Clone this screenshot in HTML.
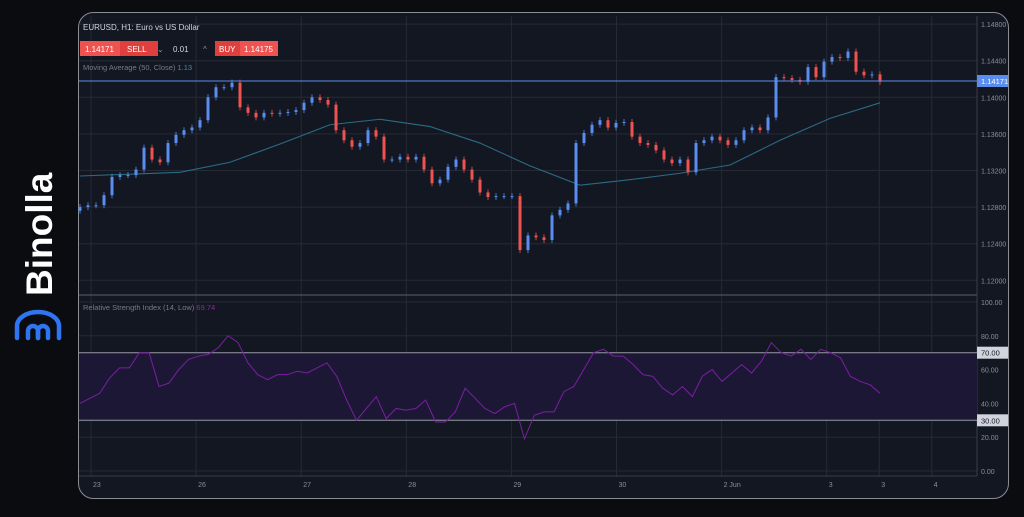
<!DOCTYPE html>
<html><head><meta charset="utf-8"><style>
html,body{margin:0;padding:0;background:#0b0c10;}
body{width:1024px;height:512px;overflow:hidden;position:relative;font-family:"Liberation Sans",sans-serif;}
svg text{font-family:"Liberation Sans",sans-serif;}
</style></head><body>
<svg id="chart" width="1024" height="512" viewBox="0 0 1024 512" xmlns="http://www.w3.org/2000/svg">
  <rect x="0" y="0" width="1024" height="512" fill="#0b0c10"/>
  <g>
    <text x="0" y="0" transform="translate(52,296) rotate(-90)" font-size="37" font-weight="bold" fill="#ffffff">Binolla</text>
    <g fill="none" stroke="#2f74f0" stroke-width="4.5" stroke-linecap="round">
      <path d="M17 338 L17 326 A21 14 0 0 1 59 326 L59 338"/>
      <path d="M28 338 L28 331 A5 5 0 0 1 38 331 L38 338"/>
      <path d="M38 338 L38 331 A5 5 0 0 1 48 331 L48 338"/>
    </g>
  </g>
  <rect x="78.5" y="12.5" width="930" height="486" rx="15" fill="#131722" stroke="#8a8d94" stroke-width="1"/>
  <g id="grid"></g>
  <rect x="79" y="352" width="898" height="68" fill="#1c1735"/>
  <g id="rsiAxis"></g>
  <g id="priceAxis"></g>
  <g id="timeAxis"></g>
  <g id="ma"></g>
  <g id="candles"></g>
  <g id="rsi"></g>
  <line x1="79" y1="81" x2="977" y2="81" stroke="#5b8def" stroke-width="1"/>
  <rect x="977" y="75" width="31" height="12" fill="#5b8def"/>
  <text x="981" y="84" font-size="7.5" fill="#ffffff">1.14171</text>
  <text x="83" y="30" font-size="8" fill="#d1d4dc">EURUSD, H1: Euro vs US Dollar</text>
  <g>
    <rect x="80" y="41" width="40" height="15" fill="#f0524f"/>
    <rect x="120" y="41" width="38" height="15" fill="#e0403d"/>
    <text x="85" y="52" font-size="8" fill="#fff">1.14171</text>
    <text x="127" y="52" font-size="8" fill="#fff">SELL</text>
    <text x="157" y="52" font-size="8" fill="#9598a1">⌄</text>
    <text x="173" y="52" font-size="8" fill="#d1d4dc">0.01</text>
    <text x="203" y="52" font-size="8" fill="#9598a1">^</text>
    <rect x="215" y="41" width="25" height="15" fill="#e0403d"/>
    <rect x="240" y="41" width="38" height="15" fill="#f0524f"/>
    <text x="219" y="52" font-size="8" fill="#fff">BUY</text>
    <text x="244" y="52" font-size="8" fill="#fff">1.14175</text>
  </g>
  <text x="83" y="70" font-size="7.5" fill="#787b86">Moving Average (50, Close) <tspan fill="#3d8ea8">1.13</tspan></text>
  <text x="83" y="310" font-size="7.5" fill="#787b86">Relative Strength Index (14, Low) <tspan fill="#8e24aa">69.74</tspan></text>
</svg>
<script>
const closes=[1.1280,1.1282,1.1282,1.1293,1.1313,1.1315,1.1315,1.1321,1.1345,1.1332,1.1329,1.1350,1.1359,1.1364,1.1367,1.1375,1.1400,1.1411,1.1411,1.1416,1.1389,1.1383,1.1378,1.1383,1.1382,1.1383,1.1384,1.1386,1.1394,1.1400,1.1397,1.1392,1.1364,1.1353,1.1346,1.1350,1.1364,1.1357,1.1332,1.1332,1.1335,1.1332,1.1335,1.1321,1.1306,1.1310,1.1324,1.1332,1.1321,1.1310,1.1296,1.1291,1.1292,1.1292,1.1292,1.1233,1.1249,1.1247,1.1244,1.1271,1.1277,1.1284,1.1350,1.1361,1.1370,1.1375,1.1367,1.1372,1.1373,1.1357,1.1350,1.1348,1.1342,1.1332,1.1328,1.1332,1.1318,1.1350,1.1353,1.1357,1.1353,1.1348,1.1353,1.1364,1.1367,1.1364,1.1378,1.1422,1.1421,1.1419,1.1417,1.1433,1.1422,1.1439,1.1444,1.1443,1.1450,1.1428,1.1424,1.1425,1.1417];
const firstOpen=1.1276;
const maValues=[1.1314,1.1316,1.1318,1.1329,1.1349,1.1370,1.1376,1.1368,1.1350,1.1325,1.1304,1.1310,1.1317,1.1326,1.1353,1.1377,1.1394];
const rsiValues=[40,43,46,55,61,61,70,70,50,52,60,66,68,69,73,80,76,64,57,54,57,57,59,58,61,64,56,42,30,37,44,31,37,36,37,42,29,29,35,49,43,37,34,38,40,19,33,35,35,47,50,60,70,72,68,68,63,57,56,49,45,50,44,56,60,53,58,63,58,65,76,70,68,72,66,72,70,67,56,53,51,46];
const priceTicks=[1.148,1.144,1.140,1.136,1.132,1.128,1.124,1.120];
const rsiTicks=[100,80,60,40,20,0];
const dayLabels=["23","26","27","28","29","30","2 Jun","3","3","4"];
const dayPos=[0,1,2,3,4,5,6,7,7.5,8];

const NS="http://www.w3.org/2000/svg";
function mk(tag,attrs,parent){const e=document.createElementNS(NS,tag);for(const k in attrs)e.setAttribute(k,attrs[k]);parent.appendChild(e);return e;}
const X0=80,X1=880,PL=79,PR=977;
const yP=p=>97.3-(p-1.14)/0.004*36.6;
const yR=v=>471-v*1.69;
const xDay=d=>91+d*105.1;
const xIdx=(i,n)=>X0+i*(X1-X0)/(n-1);

const grid=document.getElementById('grid');
priceTicks.forEach(p=>{const l=mk('line',{x1:PL,x2:PR,y1:yP(p),y2:yP(p),stroke:'#252a35','stroke-width':1},grid);

});
rsiTicks.forEach(v=>{const l=mk('line',{x1:PL,x2:PR,y1:yR(v),y2:yR(v),stroke:'#252a35','stroke-width':1},grid);

});
dayPos.forEach(d=>{const l=mk('line',{x1:xDay(d),x2:xDay(d),y1:16,y2:476,stroke:'#252a35','stroke-width':1},grid);

});
[[295,'#5d606b'],[476,'#3a3e48']].forEach(([y,c])=>{const l=mk('line',{x1:PL,x2:PR,y1:y,y2:y,stroke:c,'stroke-width':1},grid);

});
const vs=mk('line',{x1:PR,x2:PR,y1:16,y2:476,stroke:'#3a3e48','stroke-width':1},grid);



const pa=document.getElementById('priceAxis');
priceTicks.forEach(p=>{const t=mk('text',{x:981,y:yP(p)+3,'font-size':7,fill:'#8a8e98'},pa);t.textContent=p.toFixed(5);

});
const ra=document.getElementById('rsiAxis');
rsiTicks.forEach(v=>{const t=mk('text',{x:981,y:yR(v)+3,'font-size':7,fill:'#8a8e98'},ra);t.textContent=v.toFixed(2);

});
[70,30].forEach(v=>{const l=mk('line',{x1:PL,x2:PR,y1:yR(v),y2:yR(v),stroke:'#9598a1','stroke-width':1},ra);


const r=mk('rect',{x:977,y:yR(v)-6,width:31,height:12,fill:'#d1d4dc'},ra);


const t=mk('text',{x:981,y:yR(v)+3,'font-size':7.5,fill:'#131722'},ra);t.textContent=v.toFixed(2);

});

const ta=document.getElementById('timeAxis');
dayLabels.forEach((s,i)=>{const t=mk('text',{x:xDay(dayPos[i])+2,y:487,'font-size':7,fill:'#8a8e98'},ta);t.textContent=s;

});

const ma=document.getElementById('ma');
const mp=mk('polyline',{points:maValues.map((v,i)=>xIdx(i,maValues.length)+','+yP(v)).join(' '),fill:'none',stroke:'#2a6b84','stroke-width':1.1},ma);



const cg=document.getElementById('candles');
closes.forEach((c,i)=>{const o=i===0?firstOpen:closes[i-1];const x=xIdx(i,closes.length);
const up=c>=o;const col=up?'#5b8def':'#ef5350';
const yt=yP(Math.max(o,c)),yb=yP(Math.min(o,c));
const w=mk('line',{x1:x,x2:x,y1:yt-3,y2:yb+3,stroke:col,'stroke-width':0.8},cg);


const b=mk('rect',{x:x-1.5,y:yt,width:3,height:Math.max(1,yb-yt),fill:col},cg);

});

const rg=document.getElementById('rsi');
const rp=mk('polyline',{points:rsiValues.map((v,i)=>xIdx(i,rsiValues.length)+','+yR(v)).join(' '),fill:'none',stroke:'#7b1fa2','stroke-width':1},rg);


</script>
</body></html>
